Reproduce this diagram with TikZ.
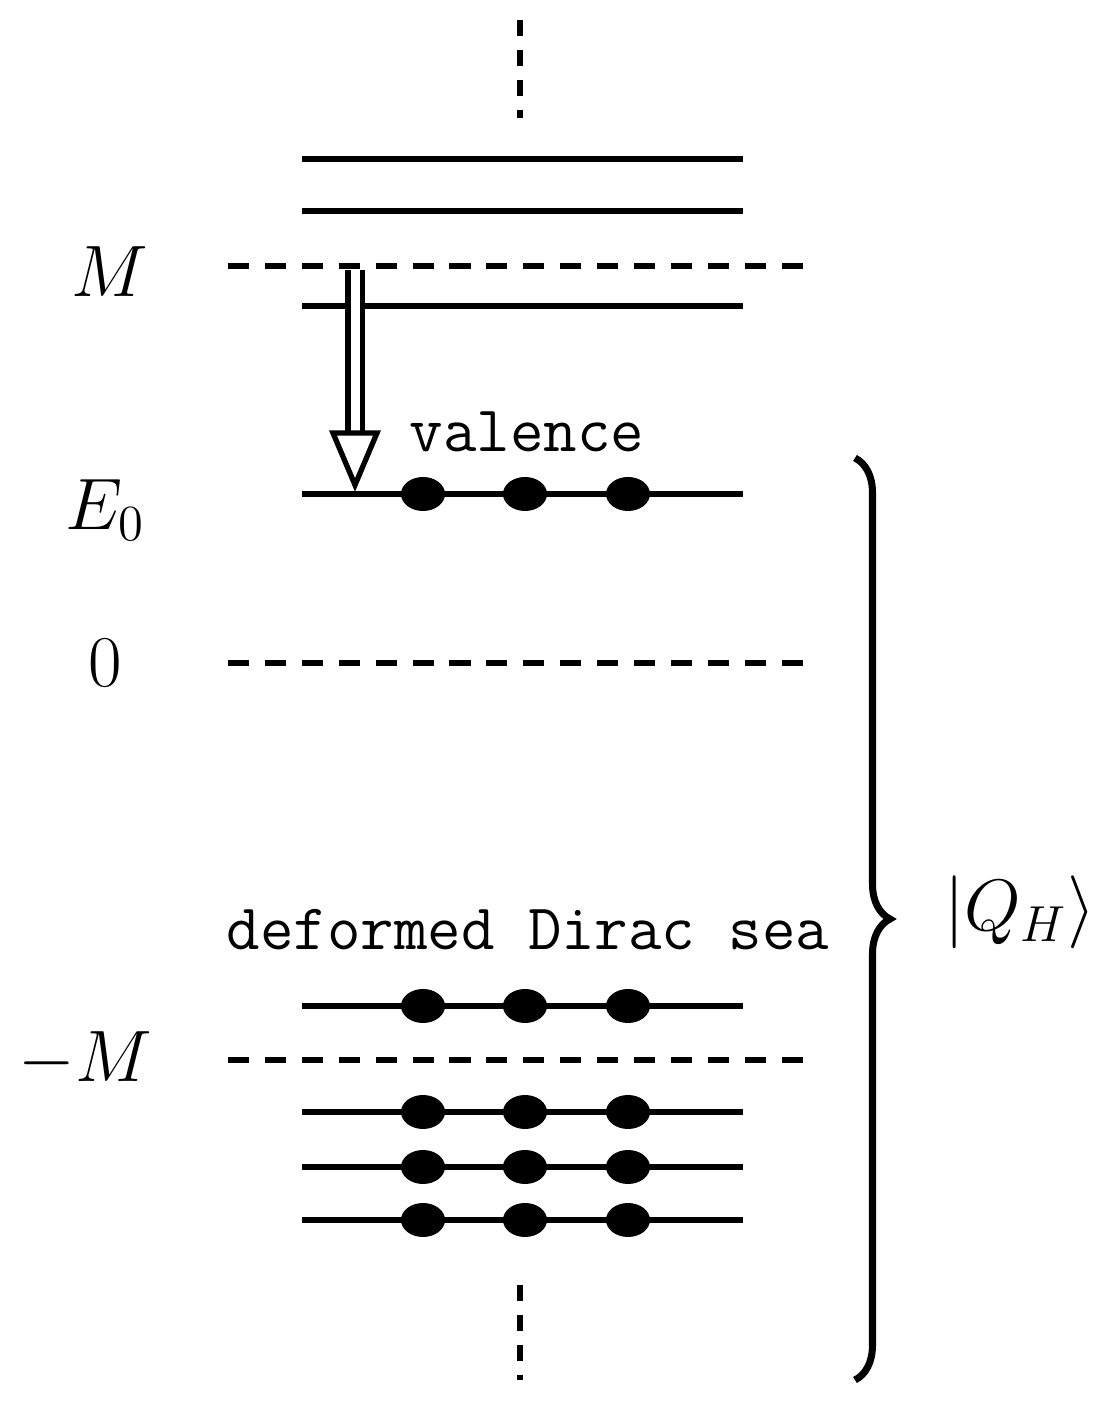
\documentclass[tikz,border=0pt]{standalone}
\usepackage{amsmath}
\usetikzlibrary{decorations.pathreplacing}
\tikzset{level/.style={line width=1.8pt},
  gap/.style={line width=1.8pt, dash pattern=on 6pt off 4.5pt},
  elec/.style={fill=black, ellipse, minimum width=0.44cm, minimum height=0.34cm, inner sep=0pt},
  lab/.style={font=\fontsize{21}{25}\selectfont},
  tt/.style={font=\fontsize{18.5}{22}\selectfont\ttfamily}}
\usetikzlibrary{shapes.geometric}
\begin{document}
\begin{tikzpicture}
\useasboundingbox (0,0) rectangle (11.19,14.05);
% levels
\foreach \y in {12.46,11.94,10.99,9.11,3.99,2.93,2.38,1.85}
  \draw[level] (3.02,\y) -- (7.43,\y);
\foreach \y in {11.39,7.42,3.45}
  \draw[gap] (2.28,\y) -- (8.05,\y);
% electrons
\foreach \y in {9.11,3.99,2.93,2.38,1.85}
  \foreach \x in {4.23,5.25,6.28}
    \node[elec] at (\x,\y) {};
% dots
\draw[line width=1.8pt, dash pattern=on 4.5pt off 4pt] (5.2,13.85) -- (5.2,12.87);
\draw[line width=1.8pt, dash pattern=on 4.5pt off 4pt] (5.2,1.2) -- (5.2,0.25);
% labels
\node[lab] (m) at (1.1,11.33) {$M$};
\node[lab] (e0) at (1.05,8.95) {$E_0$};
\node[lab] (zero) at (1.05,7.42) {$0$};
\node[lab] (mm) at (0.85,3.45) {$-M$};
\node[tt] (val) at (5.27,9.73) {valence};
\node[tt] (sea) at (5.28,4.75) {deformed Dirac sea};
% transition
\draw[line width=1.5pt, double, double distance=0.09cm] (3.55,11.35) -- (3.55,9.72);
\draw[line width=1.5pt, fill=white] (3.33,9.72) -- (3.77,9.72) -- (3.55,9.2) -- cycle;
% brace
\draw[line width=2pt, decorate, decoration={brace, amplitude=0.35cm}]
  (8.55,9.47) -- (8.55,0.25);
\node[lab] (qh) at (10.2,4.93) {$|Q_H\rangle$};
\end{tikzpicture}
\end{document}
